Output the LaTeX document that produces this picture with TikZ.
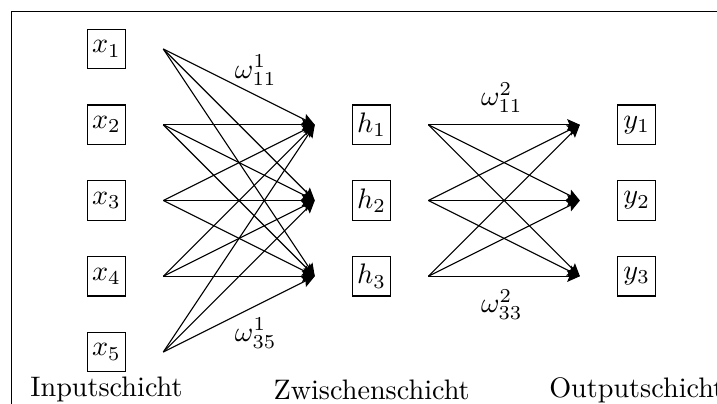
\documentclass[tikz,border=0pt]{standalone}
\usepackage{amsmath,amssymb}
\usepackage{tikz}
\usetikzlibrary{arrows.meta,positioning,calc}

\begin{document}
\begin{tikzpicture}[>={Stealth[length=4.5pt,width=4pt,inset=0.8pt]}, x=0.944cm, y=0.944cm,
  neuron/.style={draw,inner sep=1.5pt,minimum width=13.6pt,minimum height=14pt}]
\useasboundingbox (-1.406,-0.686) rectangle (8.06,4.647);
% frame, cut off on the right and at the bottom
\draw (-1.25,-1.5) rectangle (9,4.5);
% layers
\foreach \i in {1,...,5}
  \node[neuron] (x\i) at (0,5-\i) {$x_{\i}$};
\foreach \i in {1,2,3} {
  \node[neuron] (h\i) at (3.5,4-\i) {$h_{\i}$};
  \node[neuron] (y\i) at (7,4-\i) {$y_{\i}$};
}
% weights
\foreach \i in {1,...,5}
  \foreach \j in {1,2,3}
    \draw[->] ($(x\i)+(0.75,0)$) -- ($(h\j)-(0.75,0)$);
\foreach \i in {1,2,3}
  \foreach \j in {1,2,3}
    \draw[->] ($(h\i)+(0.75,0)$) -- ($(y\j)-(0.75,0)$);
\node (w111) at (1.97,3.72) {$\omega^1_{11}$};
\node (w135) at (1.97,0.25) {$\omega^1_{35}$};
\node (w211) at (5.22,3.36) {$\omega^2_{11}$};
\node (w233) at (5.22,0.63) {$\omega^2_{33}$};
% layer names
\node (inp) at (0,-0.5) {Inputschicht};
\node (hid) at (3.5,-0.5) {Zwischenschicht};
\node (out) at (7,-0.5) {Outputschicht};
\end{tikzpicture}
\end{document}
